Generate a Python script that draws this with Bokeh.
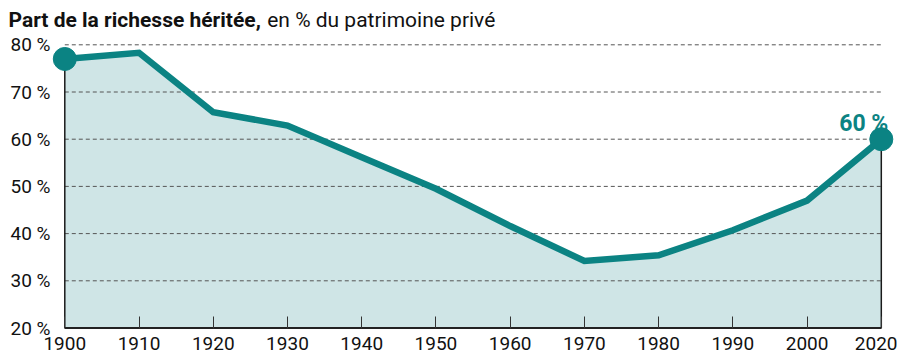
from bokeh.plotting import figure
from bokeh.models import Range1d, FixedTicker, Label
from bokeh.embed import file_html
from bokeh.resources import INLINE

# ---- data ----
years = ["1900", "1910", "1920", "1930", "1940", "1950", "1960",
         "1970", "1980", "1990", "2000", "2020"]
share = [77.0, 78.3, 65.7, 62.9, 56.2, 49.5, 41.6, 34.2, 35.4, 40.7, 47.0, 60.0]
y_ticks = [20, 30, 40, 50, 60, 70, 80]
y_tick_labels = ["20 %", "30 %", "40 %", "50 %", "60 %", "70 %", "80 %"]
title_bold = "Part de la richesse héritée,"
title_rest = "en % du patrimoine privé"
end_label = "60 %"

xs = list(range(len(years)))

TEAL = "#0b8383"
FILL = "#cfe5e6"
FONT = "Roboto"
TXT = "#111111"

# frame covers the whole figure; axes are drawn at fixed locations inside
p = figure(width=897, height=363, output_backend="svg", toolbar_location=None,
           x_range=Range1d(-0.8662, 11.2182), y_range=Range1d(12.479, 89.386),
           min_border=0)
p.outline_line_color = None
p.background_fill_color = "white"
p.xgrid.visible = False
p.ygrid.visible = False

# area
p.varea(x=xs, y1=[y_ticks[0]] * len(xs), y2=share, fill_color=FILL)

# dashed grid lines (between first and last year)
gl = [t for t in y_ticks if t > y_ticks[0]]
p.segment(x0=[xs[0]] * len(gl), x1=[xs[-1]] * len(gl), y0=gl, y1=gl,
          line_color="#555555", line_width=1, line_dash="4 3")

# vertical edges
p.segment(x0=[xs[0], xs[-1]], x1=[xs[0], xs[-1]], y0=[y_ticks[0]] * 2,
          y1=[share[0], share[-1]], line_color="#1a1a1a", line_width=1.5)

# main line
p.line(xs, share, line_color=TEAL, line_width=6.5, line_join="miter")
p.scatter([xs[0], xs[-1]], [share[0], share[-1]], size=23,
          fill_color=TEAL, line_color=TEAL)

# baseline
p.segment(x0=[xs[0]], x1=[xs[-1]], y0=[y_ticks[0]], y1=[y_ticks[0]],
          line_color="#222222", line_width=2)

# axes
xa = p.xaxis[0]
xa.fixed_location = y_ticks[0]
xa.ticker = FixedTicker(ticks=xs)
xa.major_label_overrides = {i: y for i, y in zip(xs, years)}
xa.axis_line_color = None
xa.major_tick_in = 12
xa.major_tick_out = 0
xa.major_tick_line_color = "#333333"
xa.minor_tick_line_color = None
xa.major_label_standoff = 9
xa.major_label_text_font = FONT
xa.major_label_text_font_size = "19px"
xa.major_label_text_color = TXT

ya = p.yaxis[0]
ya.fixed_location = -0.1657
ya.ticker = FixedTicker(ticks=y_ticks)
ya.major_label_overrides = {t: l for t, l in zip(y_ticks, y_tick_labels)}
ya.axis_line_color = None
ya.major_tick_line_color = None
ya.minor_tick_line_color = None
ya.major_tick_in = 0
ya.major_tick_out = 0
ya.major_label_standoff = 2
ya.major_label_text_font = FONT
ya.major_label_text_font_size = "19px"
ya.major_label_text_color = TXT

# end label
p.add_layout(Label(x=xs[-1], y=share[-1], text=end_label, x_offset=7, y_offset=16,
                   text_align="right", text_baseline="alphabetic",
                   text_font=FONT, text_font_style="bold",
                   text_font_size="23px", text_color=TEAL))

# title (two parts)
p.add_layout(Label(x=-0.7585, y=85.15, text=title_bold, text_align="left",
                   text_baseline="alphabetic", text_font=FONT,
                   text_font_style="bold", text_font_size="21px",
                   text_color=TXT))
p.add_layout(Label(x=2.7267, y=85.15, text=title_rest, text_align="left",
                   text_baseline="alphabetic", text_font=FONT,
                   text_font_size="21px", text_color=TXT))

open("out.html", "w").write(file_html(p, INLINE))
